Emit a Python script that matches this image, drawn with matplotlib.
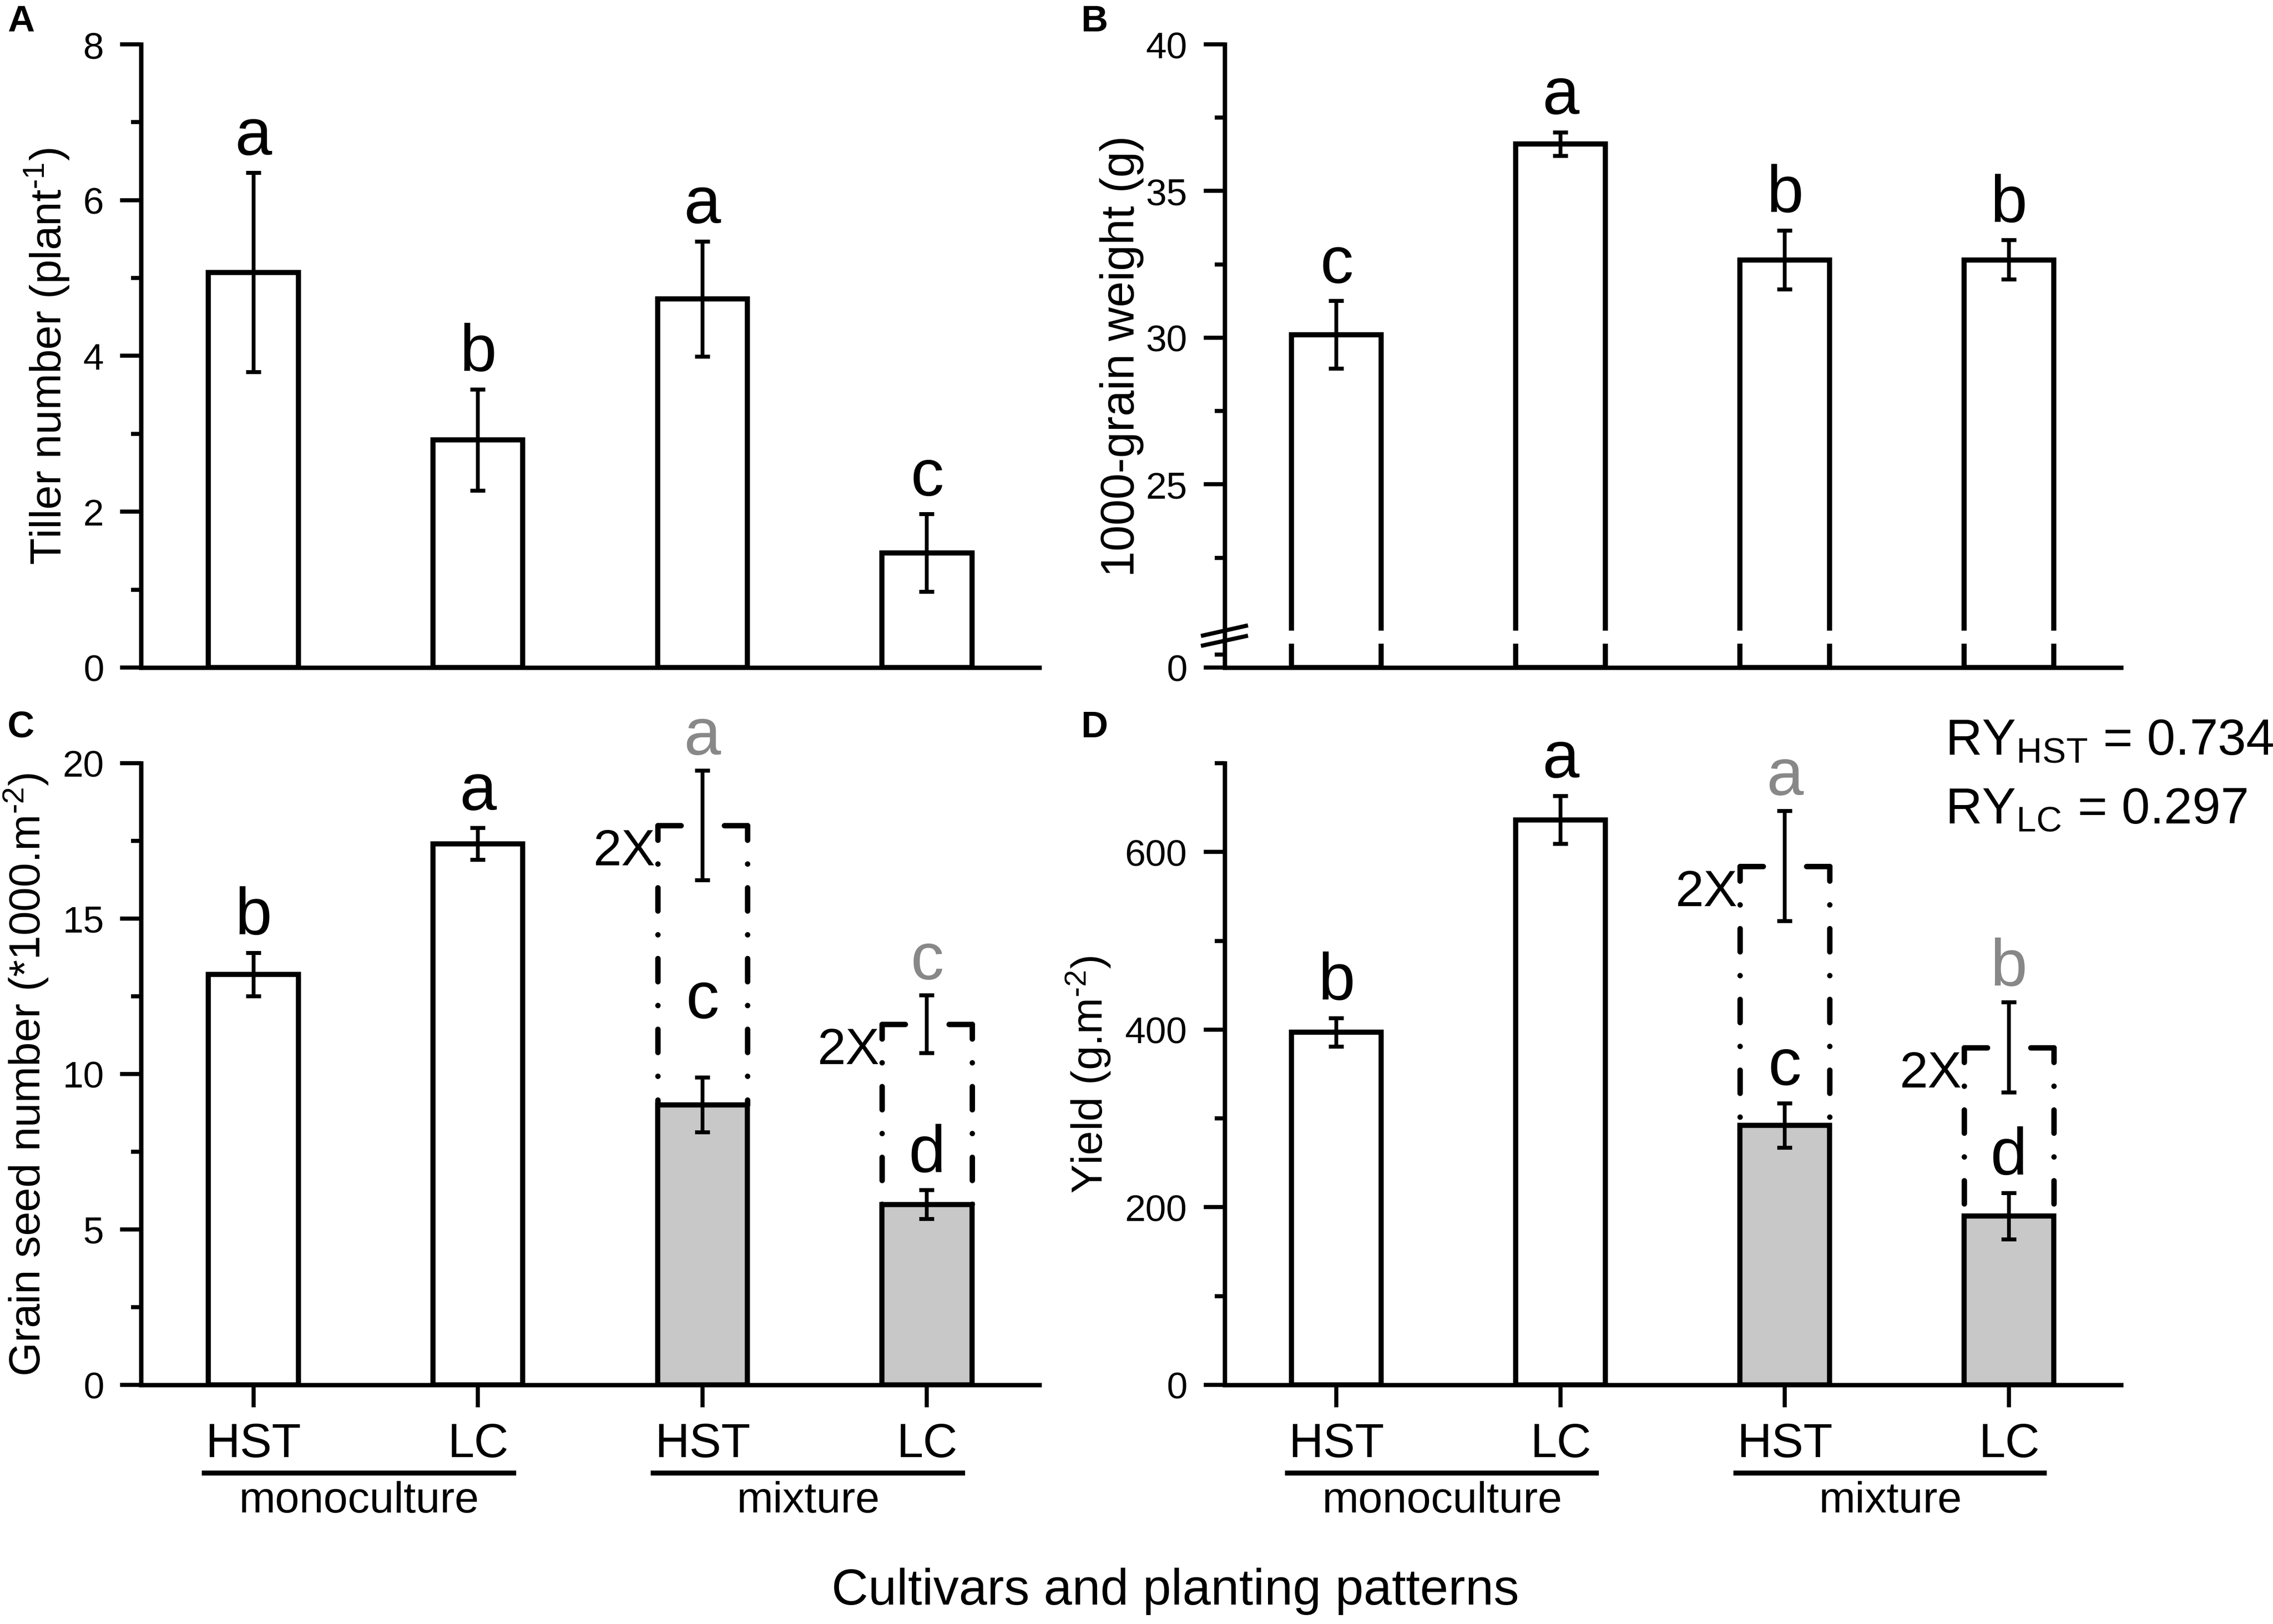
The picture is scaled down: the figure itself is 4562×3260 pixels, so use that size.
import matplotlib.pyplot as plt
from matplotlib.transforms import blended_transform_factory
import numpy as np

plt.rcParams['font.family'] = ['Liberation Sans', 'DejaVu Sans']
plt.rcParams['mathtext.fontset'] = 'custom'
plt.rcParams['mathtext.rm'] = 'Liberation Sans'
plt.rcParams['mathtext.it'] = 'Liberation Sans:italic'
plt.rcParams['mathtext.bf'] = 'Liberation Sans:bold'

# ---- data ----
groups = ['HST', 'LC', 'HST', 'LC']
patterns = ['monoculture', 'mixture']
x = np.arange(1, 5)

tiller = [5.07, 2.92, 4.73, 1.47]
tiller_err = [1.28, 0.65, 0.74, 0.50]
tiller_letters = ['a', 'b', 'a', 'c']

tgw = [30.1, 36.6, 32.65, 32.65]
tgw_err = [1.15, 0.40, 1.00, 0.67]
tgw_letters = ['c', 'a', 'b', 'b']

seeds = [13.2, 17.4, 9.0, 5.8]
seeds_err = [0.70, 0.51, 0.88, 0.46]
seeds_letters = ['b', 'a', 'c', 'd']
seeds_2x_err = [1.76, 0.93]
seeds_2x_letters = ['a', 'c']

yld = [397, 636, 292, 190]
yld_err = [16, 27, 25, 26]
yld_letters = ['b', 'a', 'c', 'd']
yld_2x_err = [62, 51]
yld_2x_letters = ['a', 'b']

ry_hst = 0.734
ry_lc = 0.297

GRAY = '#c8c8c8'
LGRAY_TXT = '#888888'
W = 0.4
HY = '\u2010'   # short hyphen for the unit exponents
fills_mix = ['white', 'white', GRAY, GRAY]
DASHDOT = (4.3, 4.4, 0.01, 4.4)

fig = plt.figure(figsize=(4562 / 300, 3261 / 300), dpi=300)
axA = fig.add_axes([0.0621, 0.5888, 0.3951, 0.3836])
axB = fig.add_axes([0.5387, 0.5888, 0.3944, 0.3836])
axC = fig.add_axes([0.0621, 0.1472, 0.3951, 0.3827])
axD = fig.add_axes([0.5387, 0.1472, 0.3944, 0.3827])


def style(ax):
    for s in ['top', 'right']:
        ax.spines[s].set_visible(False)
    for s in ['left', 'bottom']:
        ax.spines[s].set_linewidth(2.1)
    ax.tick_params(axis='y', which='major', direction='out', length=10, width=2.0,
                   labelsize=18, pad=8)
    ax.tick_params(axis='y', which='minor', direction='out', length=4.8, width=2.0)
    ax.set_xlim(0.5, 4.5)


def bars(ax, vals, errs, letters, fills, bottom=0.0, pads=None):
    vals = np.array(vals, dtype=float)
    ax.bar(x, vals - bottom, bottom=bottom, width=W, color=fills, edgecolor='black',
           linewidth=2.5, zorder=2)
    ax.errorbar(x, vals, yerr=errs, fmt='none', ecolor='black', elinewidth=1.8,
                capsize=3.7, capthick=1.9, zorder=5)
    for i, (xi, v, e, t) in enumerate(zip(x, vals, errs, letters)):
        p = 9 if pads is None else pads[i]
        ax.annotate(t, (xi, v + e), xytext=(0, p), textcoords='offset points',
                    ha='center', va='baseline', fontsize=32, zorder=6)


def double_box(ax, vals, errs2, letters2):
    dash = dict(color='black', lw=2.6, dash_capstyle='round', zorder=3)
    for xi, v, e, t in zip(x[2:], vals[2:], errs2, letters2):
        top = 2 * v
        xl, xr = xi - W / 2, xi + W / 2
        # top pieces, starting from the corners
        ax.plot([xl, xi], [top, top], linestyle=(0, DASHDOT), **dash)
        ax.plot([xr, xi], [top, top], linestyle=(0, DASHDOT), **dash)
        # sides, going down to the bar top
        ax.plot([xl, xl], [top, v], linestyle=(1.6, DASHDOT), **dash)
        ax.plot([xr, xr], [top, v], linestyle=(1.6, DASHDOT), **dash)
        ax.errorbar([xi], [top], yerr=[e], fmt='none', ecolor='black', elinewidth=1.8,
                    capsize=3.7, capthick=1.9, zorder=5)
        ax.annotate(t, (xi, top + e), xytext=(0, 8), textcoords='offset points',
                    ha='center', va='baseline', fontsize=32, color=LGRAY_TXT, zorder=6)
        ax.annotate('2X', (xl, top), xytext=(-1, -19), textcoords='offset points',
                    ha='right', va='baseline', fontsize=24.5, zorder=6)


def group_axis(ax):
    ax.set_xticks(x)
    ax.set_xticklabels(groups)
    ax.tick_params(axis='x', direction='out', length=10.8, width=2.0, labelsize=23, pad=7)
    tr = ax.get_xaxis_transform()
    for k, name in enumerate(patterns):
        x0 = x[2 * k] - 0.23
        x1 = x[2 * k + 1] + 0.17
        ax.plot([x0, x1], [-0.142, -0.142], transform=tr, color='black', lw=2.4,
                clip_on=False, solid_capstyle='butt')
        ax.text((x0 + x1) / 2, -0.186, name, transform=tr, ha='center', va='center',
                fontsize=21)


# ---- A ----
style(axA)
bars(axA, tiller, tiller_err, tiller_letters, 'white')
axA.set_ylim(0, 8)
axA.set_yticks([0, 2, 4, 6, 8])
axA.set_yticks([1, 3, 5, 7], minor=True)
axA.tick_params(axis='x', length=0, labelbottom=False)
axA.set_ylabel('Tiller number (plant$^{\\mathregular{%s1}}$)' % HY, fontsize=21)
axA.yaxis.set_label_coords(-0.078, 0.5)

# ---- B (broken axis) ----
style(axB)
ybot = 18.76
bars(axB, tgw, tgw_err, tgw_letters, 'white', bottom=ybot)
axB.set_ylim(ybot, 40)
axB.set_yticks([ybot, 25, 30, 35, 40])
axB.set_yticklabels(['0', '25', '30', '35', '40'])
axB.set_yticks([ybot + 0.44, 22.5, 27.5, 32.5, 37.5], minor=True)
axB.tick_params(axis='x', length=0, labelbottom=False)
axB.axhspan(19.61, 19.98, xmin=0.03, xmax=1.0, color='white', zorder=4)
trB = blended_transform_factory(axB.transAxes, axB.transData)
for y0, y1 in [(19.85, 20.18), (19.51, 19.83)]:
    axB.plot([-0.024, 0.024], [y0, y1], transform=trB, color='black', lw=2.0,
             clip_on=False, zorder=6)
axB.set_ylabel('1000-grain weight (g)', fontsize=22.5)
axB.yaxis.set_label_coords(-0.09, 0.5)

# ---- C ----
style(axC)
bars(axC, seeds, seeds_err, seeds_letters, fills_mix, pads=[9, 9, 29, 9])
double_box(axC, seeds, seeds_2x_err, seeds_2x_letters)
axC.set_ylim(0, 20)
axC.set_yticks([0, 5, 10, 15, 20])
axC.set_yticks([2.5, 7.5, 12.5, 17.5], minor=True)
group_axis(axC)
axC.set_ylabel('Grain seed number (*1000.m$^{\\mathregular{%s2}}$)' % HY, fontsize=21)
axC.yaxis.set_label_coords(-0.101, 0.5)

# ---- D ----
style(axD)
bars(axD, yld, yld_err, yld_letters, fills_mix)
double_box(axD, yld, yld_2x_err, yld_2x_letters)
axD.set_ylim(0, 700)
axD.set_yticks([0, 200, 400, 600])
axD.set_yticks([100, 300, 500, 700], minor=True)
group_axis(axD)
axD.set_ylabel('Yield (g.m$^{\\mathregular{%s2}}$)' % HY, fontsize=21)
axD.yaxis.set_label_coords(-0.125, 0.5)
axD.text(0.804, 1.014, r'RY$_{\mathregular{HST}}$ = %.3f' % ry_hst, transform=axD.transAxes,
         ha='left', va='baseline', fontsize=24.5)
axD.text(0.804, 0.904, r'RY$_{\mathregular{LC}}$ = %.3f' % ry_lc, transform=axD.transAxes,
         ha='left', va='baseline', fontsize=24.5)

# panel letters and common x label
for lab, (px, py) in zip('ABCD', [(0.0093, 0.9866), (0.4815, 0.9866),
                                   (0.0093, 0.5522), (0.4815, 0.5522)]):
    fig.text(px, py, lab, fontsize=18, fontweight='bold', ha='center', va='center')
fig.text(0.517, 0.0205, 'Cultivars and planting patterns', fontsize=24.5,
         ha='center', va='center')

fig.savefig('out.png', dpi=300)
